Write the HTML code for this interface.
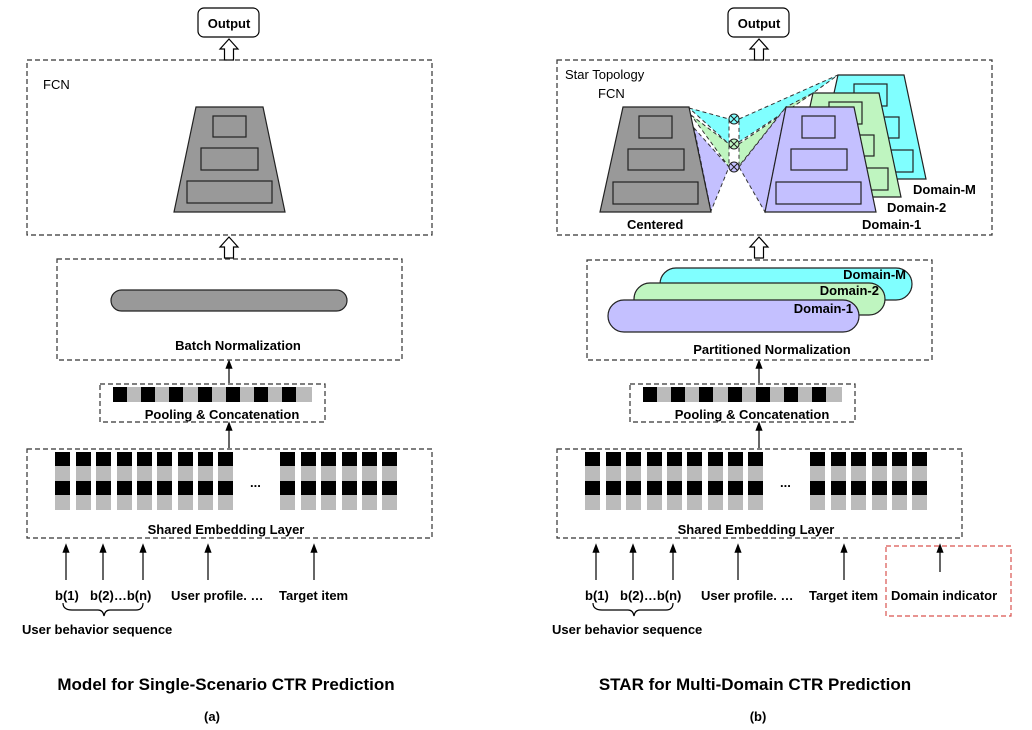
<!DOCTYPE html>
<html><head><meta charset="utf-8"><style>
html,body{margin:0;padding:0;background:#fff}
svg{display:block}
text{font-family:"Liberation Sans",sans-serif;font-weight:bold;font-size:13px;fill:#000}
</style></head><body>
<svg width="1032" height="730" viewBox="0 0 1032 730" xmlns="http://www.w3.org/2000/svg">
<defs>
<marker id="ah" markerWidth="8" markerHeight="8" refX="4" refY="4" orient="auto"><path d="M0,1 L8,4 L0,7 Z" fill="#000"/></marker>
<g id="col"><rect x="0" y="452" width="15" height="14" fill="#000"/><rect x="0" y="466" width="15" height="15" fill="#bbb"/><rect x="0" y="481" width="15" height="14" fill="#000"/><rect x="0" y="495" width="15" height="15" fill="#bbb"/></g>
<g id="pool">
<rect x="113" y="387" width="199" height="15" fill="#bbb"/>
<rect x="113" y="387" width="14" height="15" fill="#000"/><rect x="141" y="387" width="14" height="15" fill="#000"/><rect x="169" y="387" width="14" height="15" fill="#000"/><rect x="198" y="387" width="14" height="15" fill="#000"/><rect x="226" y="387" width="14" height="15" fill="#000"/><rect x="254" y="387" width="14" height="15" fill="#000"/><rect x="282" y="387" width="14" height="15" fill="#000"/>
</g>
<g id="bottom" fill="none" stroke="#333" stroke-width="1.2">
<rect x="100" y="384" width="225" height="38" stroke-dasharray="5,3"/>
<rect x="27" y="449" width="405" height="89" stroke-dasharray="5,3"/>
<line x1="229" y1="448" x2="229" y2="426" stroke="#000" marker-end="url(#ah)"/>
<line x1="229" y1="383" x2="229" y2="364" stroke="#000" marker-end="url(#ah)"/>
<line x1="66" y1="580" x2="66" y2="548" stroke="#000" marker-end="url(#ah)"/>
<line x1="103" y1="580" x2="103" y2="548" stroke="#000" marker-end="url(#ah)"/>
<line x1="143" y1="580" x2="143" y2="548" stroke="#000" marker-end="url(#ah)"/>
<line x1="208" y1="580" x2="208" y2="548" stroke="#000" marker-end="url(#ah)"/>
<line x1="314" y1="580" x2="314" y2="548" stroke="#000" marker-end="url(#ah)"/>
<path d="M63,603 Q63,610 72,610 L98,610 Q103,610 104,616 Q105,610 110,610 L136,610 Q143,610 143,603" stroke="#000"/>
<rect x="198" y="8" width="61" height="29" rx="6" stroke="#000"/>
<polygon points="229,39 238,49 233.5,49 233.5,60 224.5,60 224.5,49 220,49" fill="#fff" stroke="#000"/>
<polygon points="229,237 238,247 233.5,247 233.5,258 224.5,258 224.5,247 220,247" fill="#fff" stroke="#000"/>
</g>
</defs>

<!-- Panel A -->
<use href="#bottom"/>
<use href="#pool"/>
<g id="cols">
<use href="#col" x="55"/><use href="#col" x="76"/><use href="#col" x="96"/><use href="#col" x="117"/><use href="#col" x="137"/><use href="#col" x="157"/><use href="#col" x="178"/><use href="#col" x="198"/><use href="#col" x="218"/>
<use href="#col" x="280"/><use href="#col" x="301"/><use href="#col" x="321"/><use href="#col" x="342"/><use href="#col" x="362"/><use href="#col" x="382"/>
</g>
<text x="250" y="487">...</text>
<rect x="27" y="60" width="405" height="175" fill="none" stroke="#333" stroke-width="1.2" stroke-dasharray="5,3"/>
<text x="43" y="89" style="font-weight:normal">FCN</text>
<polygon points="196,107 263,107 285,212 174,212" fill="#999" stroke="#222" stroke-width="1.2"/>
<rect x="213" y="116" width="33" height="21" fill="none" stroke="#222" stroke-width="1.2"/>
<rect x="201" y="148" width="57" height="22" fill="none" stroke="#222" stroke-width="1.2"/>
<rect x="187" y="181" width="85" height="22" fill="none" stroke="#222" stroke-width="1.2"/>
<rect x="57" y="259" width="345" height="101" fill="none" stroke="#333" stroke-width="1.2" stroke-dasharray="5,3"/>
<rect x="111" y="290" width="236" height="21" rx="10.5" fill="#999" stroke="#222" stroke-width="1.2"/>
<text x="238" y="350" text-anchor="middle">Batch Normalization</text>
<text x="222" y="419" text-anchor="middle">Pooling &amp; Concatenation</text>
<text x="226" y="534" text-anchor="middle">Shared Embedding Layer</text>
<text x="229" y="28" text-anchor="middle">Output</text>
<text x="55" y="600">b(1)</text>
<text x="90" y="600">b(2)…b(n)</text>
<text x="171" y="600">User profile. …</text>
<text x="279" y="600">Target item</text>
<text x="22" y="634">User behavior sequence</text>
<text x="226" y="690" text-anchor="middle" style="font-size:17px">Model for Single-Scenario CTR Prediction</text>
<text x="212" y="721" text-anchor="middle">(a)</text>

<!-- Panel B -->
<g transform="translate(530,0)">
<use href="#bottom"/>
<use href="#pool"/>
<use href="#cols"/>
<text x="250" y="487">...</text>
<text x="222" y="419" text-anchor="middle">Pooling &amp; Concatenation</text>
<text x="226" y="534" text-anchor="middle">Shared Embedding Layer</text>
<text x="229" y="28" text-anchor="middle">Output</text>
<text x="55" y="600">b(1)</text>
<text x="90" y="600">b(2)…b(n)</text>
<text x="171" y="600">User profile. …</text>
<text x="279" y="600">Target item</text>
<text x="22" y="634">User behavior sequence</text>
</g>
<rect x="886" y="546" width="125" height="70" fill="none" stroke="#d9534f" stroke-width="1.2" stroke-dasharray="5,3"/>
<line x1="940" y1="572" x2="940" y2="548" stroke="#000" stroke-width="1.2" marker-end="url(#ah)"/>
<text x="891" y="600">Domain indicator</text>

<!-- Partitioned norm -->
<rect x="587" y="260" width="345" height="100" fill="none" stroke="#333" stroke-width="1.2" stroke-dasharray="5,3"/>
<rect x="660" y="268" width="252" height="32" rx="16" fill="#80ffff" stroke="#222" stroke-width="1.2"/>
<rect x="634" y="283" width="251" height="32" rx="16" fill="#bff5c0" stroke="#222" stroke-width="1.2"/>
<rect x="608" y="300" width="251" height="32" rx="16" fill="#c4c0ff" stroke="#222" stroke-width="1.2"/>
<text x="906" y="279" text-anchor="end">Domain-M</text>
<text x="879" y="295" text-anchor="end">Domain-2</text>
<text x="853" y="313" text-anchor="end">Domain-1</text>
<text x="772" y="354" text-anchor="middle">Partitioned Normalization</text>

<!-- Star topology FCN -->
<rect x="557" y="60" width="435" height="175" fill="none" stroke="#333" stroke-width="1.2" stroke-dasharray="5,3"/>
<text x="565" y="79" style="font-weight:normal">Star Topology</text>
<text x="598" y="98" style="font-weight:normal">FCN</text>
<g stroke="#333" stroke-width="1" stroke-dasharray="4,3">
<polygon points="689,108 729,119 729,144" fill="#80ffff"/>
<polygon points="691,115 729,144 729,167" fill="#bff5c0"/>
<polygon points="694,128 729,167 711,211" fill="#c4c0ff"/>
<polygon points="739,119 838,75 813,93 739,142" fill="#80ffff"/>
<polygon points="739,144 813,93 786,107 739,166" fill="#bff5c0"/>
<polygon points="739,167 786,107 765,212" fill="#c4c0ff"/>
</g>
<g fill="none" stroke="#222" stroke-width="1">
<circle cx="734" cy="119" r="5" fill="#80ffff"/><path d="M730.5,115.5 L737.5,122.5 M737.5,115.5 L730.5,122.5"/>
<circle cx="734" cy="144" r="5" fill="#bff5c0"/><path d="M730.5,140.5 L737.5,147.5 M737.5,140.5 L730.5,147.5"/>
<circle cx="734" cy="167" r="5" fill="#c4c0ff"/><path d="M730.5,163.5 L737.5,170.5 M737.5,163.5 L730.5,170.5"/>
</g>
<g stroke="#222" stroke-width="1.2">
<polygon points="623,107 689,107 711,212 600,212" fill="#999"/>
<rect x="639" y="116" width="33" height="22" fill="none"/>
<rect x="628" y="149" width="56" height="21" fill="none"/>
<rect x="613" y="182" width="85" height="22" fill="none"/>
<polygon points="838,75 904,75 926,179 815,179" fill="#80ffff"/>
<rect x="854" y="84" width="33" height="22" fill="none"/>
<rect x="843" y="117" width="56" height="21" fill="none"/>
<rect x="828" y="150" width="85" height="22" fill="none"/>
<polygon points="813,93 879,93 901,197 790,197" fill="#bff5c0"/>
<rect x="829" y="102" width="33" height="22" fill="none"/>
<rect x="818" y="135" width="56" height="21" fill="none"/>
<rect x="803" y="168" width="85" height="22" fill="none"/>
<polygon points="786,107 854,107 876,212 765,212" fill="#c4c0ff"/>
<rect x="802" y="116" width="33" height="22" fill="none"/>
<rect x="791" y="149" width="56" height="21" fill="none"/>
<rect x="776" y="182" width="85" height="22" fill="none"/>
</g>
<text x="627" y="229">Centered</text>
<text x="862" y="229">Domain-1</text>
<text x="887" y="212">Domain-2</text>
<text x="913" y="194">Domain-M</text>

<text x="755" y="690" text-anchor="middle" style="font-size:17px">STAR for Multi-Domain CTR Prediction</text>
<text x="758" y="721" text-anchor="middle">(b)</text>
</svg>
</body></html>
